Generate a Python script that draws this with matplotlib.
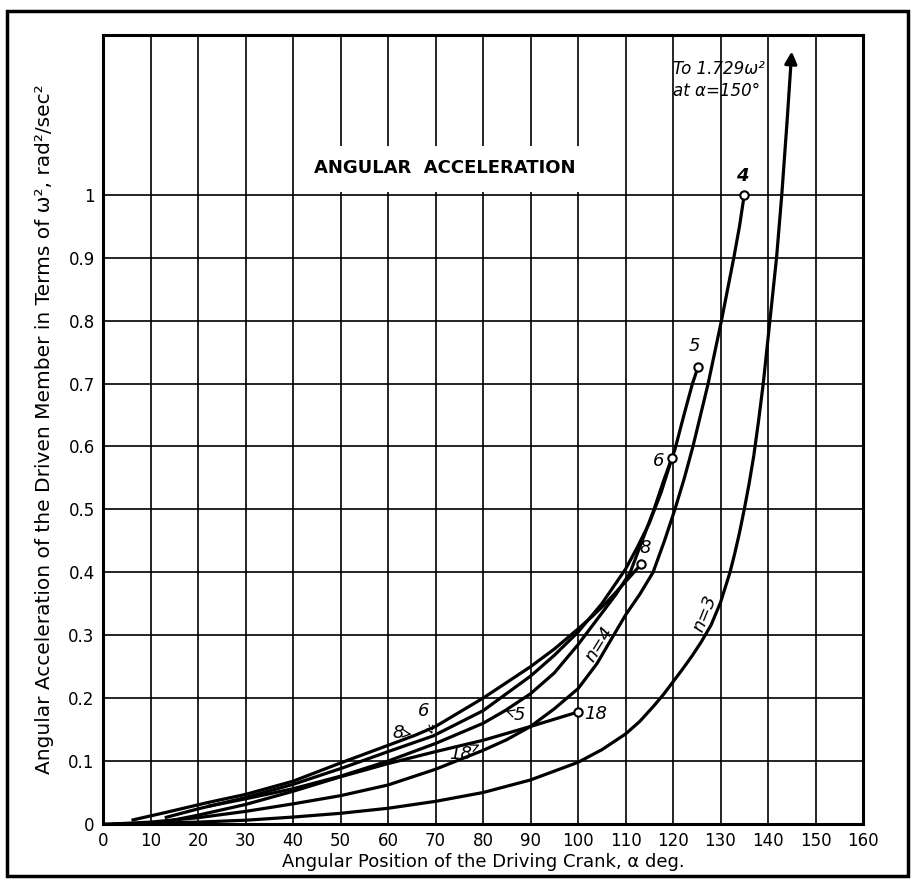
import matplotlib.pyplot as plt
from matplotlib.patches import Rectangle

# crank angle (deg) and angular acceleration (in terms of w^2) for each slot count n
n3_x = [0, 10, 20, 30, 40, 50, 60, 70, 80, 90, 100, 105, 110, 113, 116, 118, 120, 122, 124, 126, 128,
        130, 132, 133, 134, 135, 136, 137, 138, 139, 140.4, 141.8, 142.9, 144.0, 145]
n3_y = [0, 0.001, 0.003, 0.006, 0.011, 0.017, 0.025, 0.036, 0.05, 0.07, 0.098, 0.118, 0.143, 0.163,
        0.188, 0.206, 0.226, 0.246, 0.267, 0.29, 0.316, 0.352, 0.4, 0.43, 0.463, 0.5, 0.54, 0.585,
        0.64, 0.7, 0.8, 0.9, 1.0, 1.115, 1.228]

n4_x = [2, 10, 20, 30, 40, 50, 60, 70, 80, 85, 90, 95, 100, 104, 107.5, 110, 113, 115.8, 118.2, 120.4,
        122.4, 124.2, 125.8, 127.4, 128.8, 130.2, 131.5, 132.8, 134, 135]
n4_y = [0, 0.003, 0.01, 0.02, 0.032, 0.045, 0.062, 0.087, 0.117, 0.134, 0.155, 0.183, 0.215, 0.255,
        0.3, 0.332, 0.365, 0.4, 0.45, 0.5, 0.55, 0.6, 0.65, 0.7, 0.75, 0.8, 0.85, 0.9, 0.95, 1.0]

n5_x = [22, 30, 40, 50, 60, 70, 80, 84.6, 90, 95, 100, 105, 108, 111, 113.5, 116, 118, 120.4, 122.3,
        124.1, 125.3]
n5_y = [0.028, 0.04, 0.056, 0.076, 0.1, 0.128, 0.16, 0.18, 0.207, 0.24, 0.285, 0.335, 0.365, 0.4,
        0.45, 0.5, 0.545, 0.595, 0.65, 0.7, 0.727]

n6_x = [13, 20, 30, 40, 50, 60, 69.5, 80, 90, 95, 100, 105, 110, 112.5, 115, 117.5, 119.8]
n6_y = [0.01, 0.024, 0.042, 0.063, 0.088, 0.115, 0.14, 0.18, 0.235, 0.268, 0.305, 0.35, 0.405, 0.44,
        0.478, 0.527, 0.582]

n8_x = [6, 13, 22, 30, 40, 50, 60, 65.7, 70, 80, 90, 95, 100, 103, 106, 110, 113.3]
n8_y = [0.006, 0.018, 0.034, 0.047, 0.068, 0.097, 0.125, 0.141, 0.155, 0.2, 0.25, 0.278, 0.31, 0.33,
        0.352, 0.385, 0.413]

n18_x = [14, 20, 30, 40, 50, 60, 70, 80, 90, 100]
n18_y = [0.005, 0.014, 0.031, 0.052, 0.075, 0.096, 0.115, 0.133, 0.155, 0.178]

x_ticks = list(range(0, 161, 10))
y_ticks = [0, 0.1, 0.2, 0.3, 0.4, 0.5, 0.6, 0.7, 0.8, 0.9, 1.0]
y_labels = ['0', '0.1', '0.2', '0.3', '0.4', '0.5', '0.6', '0.7', '0.8', '0.9', '1']

fig = plt.figure(figsize=(9.15, 8.81), dpi=100)
ax = fig.add_axes([103 / 915, 1 - 824 / 881, 760 / 915, 789 / 881])
ax.set_xlim(0, 160)
ax.set_ylim(0, 1.254)

ax.set_xticks(x_ticks)
ax.set_yticks(y_ticks)
ax.set_yticklabels(y_labels)
ax.tick_params(length=0, labelsize=12, pad=6)
ax.grid(True, color='black', linewidth=1.2)
ax.set_axisbelow(True)
for s in ax.spines.values():
    s.set_linewidth(2.2)

# white box behind the heading
ax.add_patch(Rectangle((41, 1.004), 68, 0.074, facecolor='white', edgecolor='none', zorder=1))
ax.text(72, 1.042, 'ANGULAR  ACCELERATION', ha='center', va='center',
        fontsize=13, fontweight='bold', zorder=3)

lw = 2.3
for xs, ys in [(n3_x[:-1], n3_y[:-1]), (n4_x, n4_y), (n5_x, n5_y),
               (n6_x, n6_y), (n8_x, n8_y), (n18_x, n18_y)]:
    ax.plot(xs, ys, color='black', linewidth=lw, solid_capstyle='butt',
            solid_joinstyle='round', zorder=3)

# n=3 runs off the chart
ax.annotate('', xy=(n3_x[-1], n3_y[-1]), xytext=(n3_x[-2], n3_y[-2]),
            arrowprops=dict(arrowstyle='-|>', color='black', lw=lw, mutation_scale=18,
                            shrinkA=0, shrinkB=0), zorder=3)

# open circles at curve ends
for xs, ys in [(n4_x, n4_y), (n5_x, n5_y), (n6_x, n6_y), (n8_x, n8_y), (n18_x, n18_y)]:
    ax.plot(xs[-1], ys[-1], 'o', markersize=6, markerfacecolor='white',
            markeredgecolor='black', markeredgewidth=1.5, zorder=4)

lab = dict(fontsize=13, style='italic', zorder=5)
ax.text(134.6, 1.015, '4', ha='center', va='bottom', fontweight='bold', **lab)
ax.text(124.6, 0.745, '5', ha='center', va='bottom', **lab)
ax.text(118.2, 0.577, '6', ha='right', va='center', **lab)
ax.text(114.2, 0.425, '8', ha='center', va='bottom', **lab)
ax.text(101.3, 0.175, '18', ha='left', va='center', **lab)
ax.text(104.4, 0.285, 'n=4', ha='center', va='center', rotation=58, **lab)
ax.text(126.8, 0.335, 'n=3', ha='center', va='center', rotation=68, **lab)

arr = dict(arrowstyle='->', color='black', lw=0.9)
ax.annotate('5', xy=(84.8, 0.18), xytext=(87.6, 0.173), ha='center', va='center',
            arrowprops=arr, **lab)
ax.annotate('8', xy=(65.5, 0.142), xytext=(62.2, 0.145), ha='center', va='center',
            arrowprops=arr, **lab)
ax.annotate('6', xy=(69.5, 0.138), xytext=(67.6, 0.18), ha='center', va='center',
            arrowprops=dict(arrowstyle='->', color='black', lw=0.9, linestyle=':'), **lab)
ax.annotate('18', xy=(79.8, 0.128), xytext=(75.2, 0.112), ha='center', va='center',
            arrowprops=arr, **lab)

ax.text(120, 1.215, 'To 1.729ω²\nat α=150°', ha='left', va='top', fontsize=12,
        style='italic', linespacing=1.3, zorder=5)

ax.set_xlabel('Angular Position of the Driving Crank, α deg.', fontsize=13, labelpad=2)
ax.set_ylabel('Angular Acceleration of the Driven Member in Terms of ω², rad²/sec²',
              fontsize=14.5, labelpad=10)

# outer frame around the figure
fig.add_artist(Rectangle((7 / 915, 1 - 876 / 881), 901 / 915, 865 / 881,
                         transform=fig.transFigure, fill=False, linewidth=2.5,
                         edgecolor='black'))

fig.savefig('out.png', dpi=100)
